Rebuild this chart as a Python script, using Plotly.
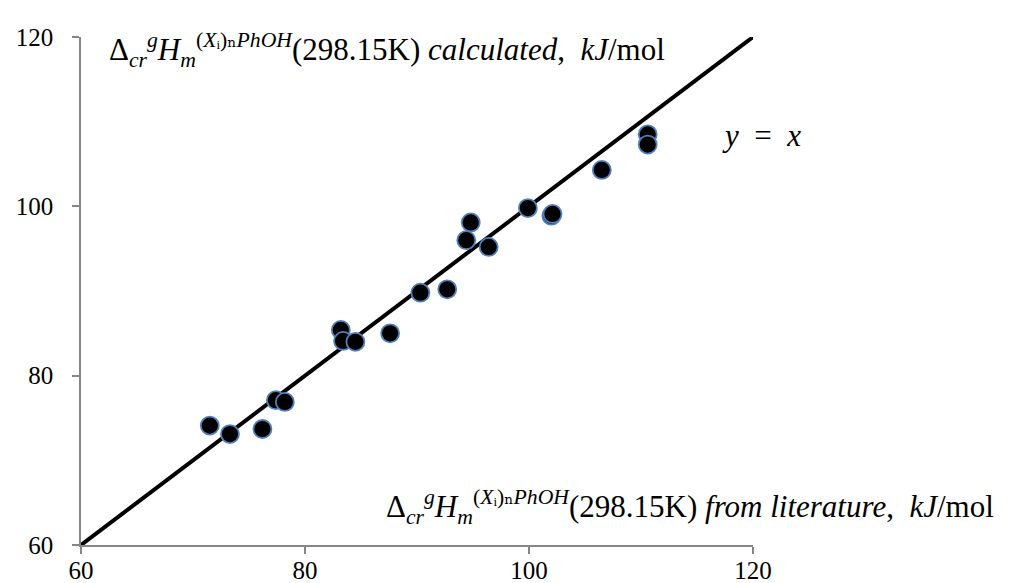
import plotly.graph_objects as go

# Enthalpy of sublimation values (kJ/mol): literature (x) vs calculated (y)
x_literature = [71.5, 73.3, 76.2, 77.4, 78.2, 83.2, 83.4, 84.5, 87.6, 90.3,
                92.7, 94.8, 94.4, 96.4, 99.9, 102.0, 102.1, 106.5, 110.6, 110.6]
y_calculated = [74.1, 73.1, 73.7, 77.1, 76.9, 85.4, 84.1, 84.0, 85.0, 89.8,
                90.2, 98.1, 96.0, 95.2, 99.8, 98.9, 99.1, 104.3, 108.5, 107.3]

# y = x reference line end points
line_x = [60, 120]
line_y = [60, 120]

axis_ticks = [60, 80, 100, 120]

fig = go.Figure()

fig.add_trace(go.Scatter(
    x=line_x, y=line_y, mode="lines",
    line=dict(color="black", width=4),
    showlegend=False, hoverinfo="skip",
))

fig.add_trace(go.Scatter(
    x=x_literature, y=y_calculated, mode="markers",
    marker=dict(size=18, color="black",
                line=dict(color="#4f81bd", width=1.8)),
    showlegend=False,
))

axis_style = dict(
    range=[60, 120],
    tickvals=axis_ticks,
    showgrid=False,
    zeroline=False,
    showline=True,
    automargin=False,
    linecolor="#868686",
    linewidth=1.5,
    ticks="outside",
    ticklen=7,
    tickwidth=1.5,
    tickcolor="#868686",
    tickfont=dict(family="Liberation Serif, Times New Roman, serif",
                  size=25, color="black"),
)

fig.update_xaxes(**axis_style, ticklabelstandoff=-5)
fig.update_yaxes(**axis_style, ticklabelstandoff=14)

label_font = dict(family="Liberation Serif, DejaVu Serif, serif",
                  size=31, color="black")

sym = ("Δ<sub><i>cr</i></sub><sup><i>g</i></sup><i>H</i><sub><i>m</i></sub>"
       "<sup>(<i>X</i>ᵢ)ₙ<i>PhOH</i></sup>")

fig.add_annotation(
    xref="paper", yref="paper", x=0.039, y=0.975,
    xanchor="left", yanchor="middle", showarrow=False,
    text=sym + "(298.15K) <i>calculated</i>,  <i>kJ</i>/mol",
    font=label_font,
)

fig.add_annotation(
    xref="paper", yref="paper", x=0.451, y=0.075,
    xanchor="left", yanchor="middle", showarrow=False,
    text=sym + "(298.15K) <i>from literature</i>,  <i>kJ</i>/mol",
    font=label_font,
)

fig.add_annotation(
    xref="paper", yref="paper", x=0.951, y=0.807,
    xanchor="left", yanchor="middle", showarrow=False,
    text="<i>y</i>  =  <i>x</i>",
    font=label_font,
)

fig.update_layout(
    width=1020, height=583,
    margin=dict(l=73, r=275, t=29, b=46),
    paper_bgcolor="white",
    plot_bgcolor="white",
)

fig.write_html("out.html")
